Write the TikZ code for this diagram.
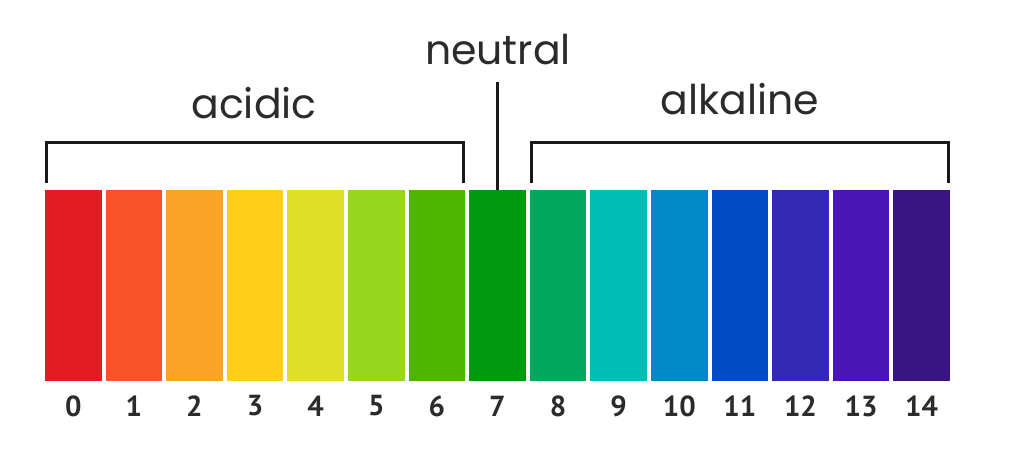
\documentclass[tikz,border=0pt]{standalone}
\usepackage{fontspec}
\newfontfamily\labelfont{Poppins}
\newfontfamily\numfont{PT Sans}
\usetikzlibrary{calc}
\definecolor{c0}{HTML}{E31B23}
\definecolor{c1}{HTML}{F9532A}
\definecolor{c2}{HTML}{FBA229}
\definecolor{c3}{HTML}{FFCC17}
\definecolor{c4}{HTML}{DEDF26}
\definecolor{c5}{HTML}{97D520}
\definecolor{c6}{HTML}{4DB500}
\definecolor{c7}{HTML}{009A0E}
\definecolor{c8}{HTML}{00A75C}
\definecolor{c9}{HTML}{00BDB6}
\definecolor{c10}{HTML}{0089C9}
\definecolor{c11}{HTML}{004BC4}
\definecolor{c12}{HTML}{3328B3}
\definecolor{c13}{HTML}{4915B6}
\definecolor{c14}{HTML}{391482}
\definecolor{txt}{HTML}{2B2B2B}
\tikzset{
  bar/.style={rectangle, inner sep=0pt, minimum width=56.5pt, minimum height=191pt, draw=none},
  num/.style={font=\numfont\bfseries\fontsize{29}{29}\selectfont, text=txt, inner sep=0pt},
  lbl/.style={font=\labelfont\fontsize{41}{41}\selectfont, text=txt, inner sep=0pt, anchor=base},
  brk/.style={line width=3pt, black!90}
}
\begin{document}
\begin{tikzpicture}[x=1pt,y=-1pt]
\useasboundingbox[fill=white] (0,0) rectangle (1024,469);
\foreach \i in {0,...,14}{
  \node[bar, fill=c\i] (b\i) at ({45+\i*60.6+28.25},285.5) {};
  \node[num] (n\i) at ({45+\i*60.6+28.25},406) {\i};
}
\node[lbl] (acid) at (254,118) {acidic};
\node[lbl] (alk) at (740,114) {alkaline};
\node[lbl] (neu) at (498,64) {neutral};
\coordinate (ntop) at (497,82);
\draw[brk] ($(b0.north west)+(1.5,-7)$) |- ($(b6.north east)+(-1.5,-47)$) -- ($(b6.north east)+(-1.5,-7)$);
\draw[brk] ($(b8.north west)+(1.5,-7)$) |- ($(b14.north east)+(-1.5,-47)$) -- ($(b14.north east)+(-1.5,-7)$);
\draw[brk] (b7.north) -- (b7.north |- ntop);
\end{tikzpicture}
\end{document}
